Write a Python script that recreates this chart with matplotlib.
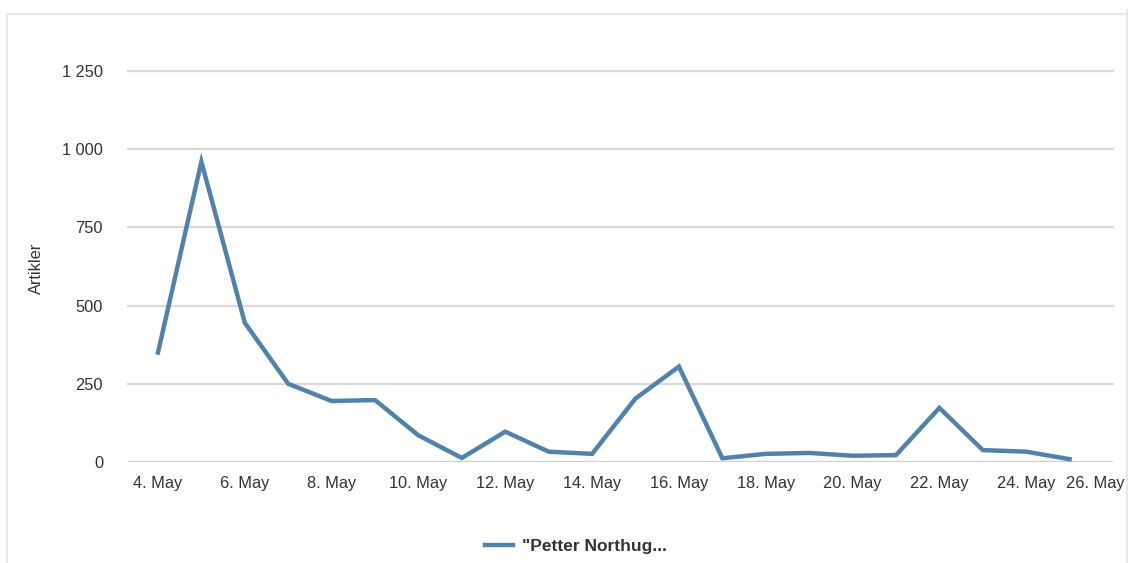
import matplotlib
matplotlib.use("Agg")
import matplotlib.pyplot as plt
import matplotlib.transforms as mtransforms
from matplotlib.lines import Line2D

# days in May
days = [4, 5, 6, 7, 8, 9, 10, 11, 12, 13, 14, 15, 16, 17, 18, 19, 20, 21, 22, 23, 24, 25]
artikler = [350, 960, 445, 250, 195, 198, 85, 13, 97, 33, 26, 203, 305, 12, 26, 29, 20, 22, 173, 38, 33, 9]
tick_days = [4, 6, 8, 10, 12, 14, 16, 18, 20, 22, 24, 26]
y_ticks = [0, 250, 500, 750, 1000, 1250]
series_name = '"Petter Northug...'

line_color = "#5282ab"
plt.rcParams["font.family"] = ["Liberation Sans", "DejaVu Sans"]

fig = plt.figure(figsize=(11.3, 5.63), dpi=100)
ax = fig.add_axes([0.1133, 0.1794, 0.8717, 0.6945])

# outer frame of the widget
frame_kw = dict(transform=fig.transFigure, color="#e3e6e8", lw=1.2)
fig.add_artist(Line2D([7 / 1130, 7 / 1130], [0, 1 - 14 / 563], **frame_kw))
fig.add_artist(Line2D([7 / 1130, 1127 / 1130], [1 - 14 / 563, 1 - 14 / 563], **frame_kw))
fig.add_artist(Line2D([1127 / 1130, 1127 / 1130], [0, 1 - 10 / 563], **frame_kw))

ax.plot(days, artikler, color=line_color, lw=3.2, solid_joinstyle="miter", clip_on=False, zorder=3)

ax.set_xlim(3.31, 25.95)
ax.set_ylim(0, 1250)

for v in y_ticks[1:]:
    ax.axhline(v, color="#dadada", lw=1.6, zorder=1, clip_on=False)
ax.axhline(0, color="#c5d1dd", lw=1.6, zorder=2)

for s in ax.spines.values():
    s.set_visible(False)

ax.set_yticks(y_ticks)
ax.set_yticklabels([f"{v:,}".replace(",", " ") for v in y_ticks])
ax.set_xticks(tick_days)
ax.set_xticklabels([f"{d}. May" for d in tick_days])
ax.tick_params(axis="y", length=0, pad=18, labelsize=11.8, labelcolor="#333333")
ax.tick_params(axis="x", length=0, pad=10, labelsize=11.8, labelcolor="#333333")

# last label pushed inside the frame
last = ax.get_xticklabels()[-1]
last.set_transform(last.get_transform() + mtransforms.ScaledTranslation(-18 / 100, 0, fig.dpi_scale_trans))

ax.set_ylabel("Artikler", fontsize=11.8, color="#333333")
ax.yaxis.set_label_coords(-0.0853, 0.496)

ax.legend([Line2D([0], [0], color=line_color, lw=3.2)], [series_name],
          loc="center", bbox_to_anchor=(0.455, -0.215), frameon=False,
          handlelength=1.6, handletextpad=0.5,
          prop={"weight": "bold", "size": 12.5}, labelcolor="#333333")

fig.savefig("out.png", dpi=100)
